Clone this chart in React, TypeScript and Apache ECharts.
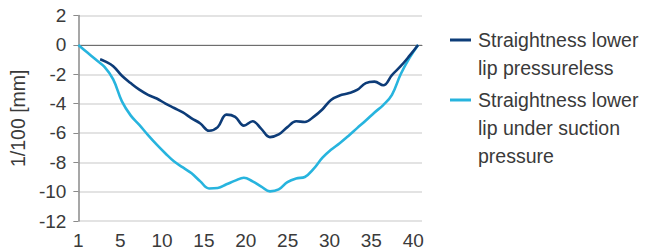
import React, { useEffect, useRef } from "react";
import * as echarts from "echarts";

const tickLabels = ["1", "5", "10", "15", "20", "25", "30", "35", "40"];

const pressurelessX = [3.5, 4, 5, 6, 7, 8, 9, 10, 11, 12, 13, 14, 15, 16, 17, 18, 19, 20, 21, 22, 23, 24, 25, 26, 27, 28, 29, 30, 31, 32, 33, 34, 35, 36, 37, 38, 39, 40];
const pressurelessY = [-0.97, -1.1, -1.45, -2.1, -2.6, -3.05, -3.4, -3.65, -4.0, -4.3, -4.6, -5.0, -5.35, -5.85, -5.6, -4.75, -4.9, -5.5, -5.2, -5.72, -6.28, -6.1, -5.6, -5.2, -5.25, -4.9, -4.4, -3.75, -3.45, -3.3, -3.07, -2.6, -2.5, -2.75, -2.05, -1.45, -0.75, 0];

const suctionX = [1, 2, 3, 4, 5, 6, 7, 8, 9, 10, 11, 12, 13, 14, 15, 16, 17, 18, 19, 20, 21, 22, 23, 24, 25, 26, 27, 28, 29, 30, 31, 32, 33, 34, 35, 36, 37, 38, 39, 40];
const suctionY = [0, -0.5, -1.0, -1.5, -2.35, -3.85, -4.8, -5.45, -6.15, -6.8, -7.4, -7.95, -8.35, -8.75, -9.3, -9.78, -9.75, -9.5, -9.25, -9.05, -9.3, -9.65, -9.98, -9.85, -9.35, -9.1, -9.0, -8.45, -7.7, -7.15, -6.7, -6.2, -5.67, -5.15, -4.6, -4.1, -3.4, -2.0, -0.9, 0];

const seriesNames = ["Straightness lower lip pressureless", "Straightness lower lip under suction pressure"];
const legendLines = [["Straightness lower", "lip pressureless"], ["Straightness lower", "lip under suction", "pressure"]];
const colors = ["#0d3c78", "#27b4de"];

const FONT = "'Liberation Sans', Arial, sans-serif";
const TEXT = "#3a3a3a";

export default function App() {
  const ref = useRef<HTMLDivElement>(null);
  useEffect(() => {
    if (!ref.current) return;
    const chart = echarts.init(ref.current, null, { renderer: "svg" });
    const legendGraphics: any[] = [];
    const legendTops = [40, 100];
    legendLines.forEach((lines, k) => {
      legendGraphics.push({
        type: "line",
        shape: { x1: 450, y1: legendTops[k], x2: 471, y2: legendTops[k] },
        style: { stroke: colors[k], lineWidth: 3 },
      });
      lines.forEach((t, j) => {
        legendGraphics.push({
          type: "text",
          x: 478,
          y: legendTops[k] + j * 28,
          style: { text: t, fill: TEXT, font: `19.5px ${FONT}`, verticalAlign: "middle", textAlign: "left" },
        });
      });
    });
    chart.setOption({
      animation: false,
      grid: { left: 75, right: 225, top: 15.6, bottom: 31, containLabel: false },
      xAxis: [
        {
          type: "value",
          min: 1,
          max: 40.45,
          show: true,
          axisLine: { show: true, onZero: true, lineStyle: { color: "#6e6e6e", width: 1 } },
          axisTick: { show: false },
          axisLabel: { show: false },
          splitLine: { show: false },
        },
        {
          type: "value",
          min: 0,
          max: 8.21,
          position: "bottom",
          axisLine: { show: false, onZero: false },
          axisTick: { show: false },
          splitLine: { show: false },
          axisLabel: {
            show: true,
            customValues: [0, 1, 2, 3, 4, 5, 6, 7, 8],
            formatter: (v: number) => tickLabels[Math.round(v)] ?? "",
            color: TEXT,
            fontSize: 19,
            fontFamily: FONT,
            margin: 10,
            showMinLabel: true,
            showMaxLabel: true,
          },
        },
      ],
      yAxis: {
        type: "value",
        min: -12,
        max: 2,
        interval: 2,
        name: "1/100 [mm]",
        nameLocation: "middle",
        nameGap: 50,
        nameRotate: 90,
        nameTextStyle: { color: TEXT, fontSize: 19.5, fontFamily: FONT },
        axisLine: { show: true, lineStyle: { color: "#8a8a8a", width: 1.5 } },
        axisTick: { show: true, length: 5, lineStyle: { color: "#8a8a8a" } },
        axisLabel: { color: TEXT, fontSize: 19, fontFamily: FONT, margin: 12 },
        splitLine: { show: true, lineStyle: { color: "#dadada", width: 1.5 } },
      },
      series: [
        {
          name: seriesNames[0],
          type: "line",
          xAxisIndex: 0,
          data: pressurelessX.map((x, i) => [x, pressurelessY[i]]),
          smooth: 0.4,
          showSymbol: false,
          lineStyle: { color: colors[0], width: 2.6 },
          itemStyle: { color: colors[0] },
          z: 3,
        },
        {
          name: seriesNames[1],
          type: "line",
          xAxisIndex: 0,
          data: suctionX.map((x, i) => [x, suctionY[i]]),
          smooth: 0.4,
          showSymbol: false,
          lineStyle: { color: colors[1], width: 2.6 },
          itemStyle: { color: colors[1] },
          z: 2,
        },
      ],
      graphic: legendGraphics,
    });
    return () => chart.dispose();
  }, []);
  return <div ref={ref} style={{ width: 647, height: 252, position: "absolute", left: 0, top: 0 }} />;
}
